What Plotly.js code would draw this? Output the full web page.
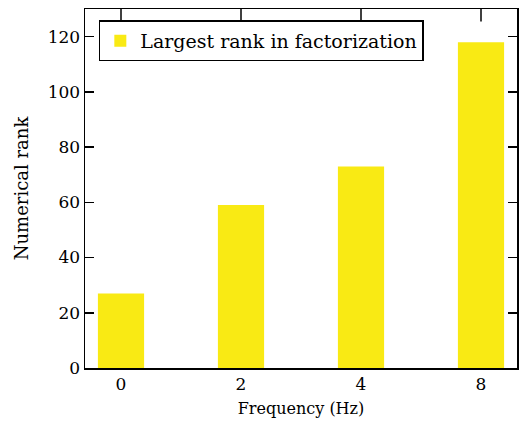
<!DOCTYPE html>
<html>
<head>
<meta charset="utf-8">
<script src="https://cdn.plot.ly/plotly-3.0.1.min.js"></script>
<style>
  html, body { margin: 0; padding: 0; background: #fff; }
  #chart { width: 519px; height: 430px; }
</style>
</head>
<body>
<div id="chart"></div>
<script>
// Frequencies (tick labels) and the largest numerical rank found in each factorization
const frequencies = ['0', '2', '4', '8'];
const largestRank = [27, 59, 73, 118];
const yTickValues = [0, 20, 40, 60, 80, 100, 120];

const serif = 'DejaVu Serif';
// one evenly spaced slot per frequency
const slots = frequencies.map((_, i) => i);

const bars = {
  type: 'bar',
  x: slots,
  y: largestRank,
  name: 'Largest rank in factorization',
  width: 0.385,
  marker: { color: '#f9ea14', line: { width: 0 } },
  hoverinfo: 'y'
};

// inward tick marks hanging from the top frame: vertical line markers sitting
// on the top edge of a hidden 0..1 overlay axis, clipped to the plot area
const topTicks = {
  type: 'scatter', mode: 'markers',
  x: slots, y: slots.map(() => 1),
  yaxis: 'y2',
  marker: { symbol: 'line-ns-open', size: 18, color: '#000', line: { color: '#000', width: 1.5 } },
  cliponaxis: true,
  showlegend: false, hoverinfo: 'skip'
};

const layout = {
  width: 519,
  height: 430,
  margin: { l: 85, r: 2, t: 9, b: 62 },
  paper_bgcolor: '#ffffff',
  plot_bgcolor: '#ffffff',
  font: { family: serif, size: 17, color: '#000' },
  showlegend: true,
  legend: {
    x: 0.032, y: 0.968, xanchor: 'left', yanchor: 'top',
    bgcolor: '#ffffff', bordercolor: '#000', borderwidth: 1.5,
    font: { family: serif, size: 19, color: '#000' },
    itemwidth: 30
  },
  xaxis: {
    type: 'linear',
    range: [-0.3, slots.length - 0.7],
    tickmode: 'array', tickvals: slots, ticktext: frequencies,
    showline: true, linecolor: '#000', linewidth: 1.5, mirror: true,
    ticks: '', showgrid: false, zeroline: false,
    layer: 'below traces',
    tickfont: { family: serif, size: 17 },
    title: { text: 'Frequency (Hz)', font: { family: serif, size: 16 }, standoff: 10 }
  },
  yaxis: {
    range: [0, 130],
    tickvals: yTickValues,
    showline: true, linecolor: '#000', linewidth: 1.5, mirror: 'ticks',
    ticks: 'inside', ticklen: 9, tickwidth: 1.5, tickcolor: '#000',
    showgrid: false, zeroline: false,
    tickfont: { family: serif, size: 17 },
    title: { text: 'Numerical rank', font: { family: serif, size: 18 }, standoff: 14 }
  },
  yaxis2: {
    overlaying: 'y', range: [0, 1],
    visible: false, showgrid: false, zeroline: false
  }
};

Plotly.newPlot('chart', [bars, topTicks], layout, { displayModeBar: false, staticPlot: true });
</script>
</body>
</html>
